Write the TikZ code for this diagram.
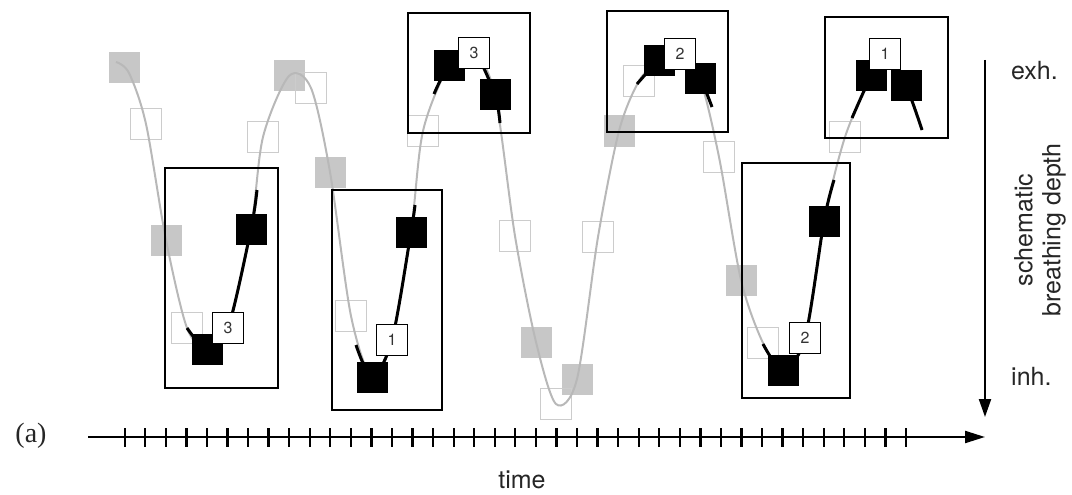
\documentclass[tikz,border=0pt]{standalone}
\usepackage{fontspec}
\setmainfont{TeX Gyre Heros}
\newfontfamily\serifa{Liberation Serif}
\usetikzlibrary{arrows.meta}
\begin{document}
\begin{tikzpicture}[x=1pt,y=-1pt,
  sq/.style={rectangle, minimum size=31pt, inner sep=0pt},
  graysq/.style={sq, fill=black!22},
  opensq/.style={sq, draw=black!20, line width=1.5pt},
  blacksq/.style={sq, fill=black},
  numsq/.style={sq, fill=white, draw=black, line width=1.6pt,
    font=\fontsize{16}{16}\selectfont, text=black!80},
  graycurve/.style={draw=black!28, line width=2pt},
  blackcurve/.style={draw=black, line width=3pt},
  framebox/.style={draw=black, line width=2.8pt},
  axisline/.style={draw=black, line width=2.2pt},
  tickmark/.style={draw=black, line width=2.3pt},
  lbl/.style={inner sep=0pt, text=black!85, font=\fontsize{25}{28}\selectfont}]
\useasboundingbox (0,0) rectangle (1072,495);

% sample positions along the breathing signal
\foreach \i/\x/\y in {1/124/68, 2/146/124, 3/166/240, 4/187/328, 5/207/349,
  6/228/328, 7/251/229, 8/263/137, 9/289/76, 10/311/88, 11/330/172,
  12/351/316, 13/372/377, 14/392/340, 15/411/232, 16/423/131, 17/449/66,
  18/474/53, 19/495/95, 20/515/236, 21/536/342, 22/556/404, 23/577/379,
  24/598/237, 25/619/131, 26/639/81, 27/659/61, 28/680/54, 29/700/79,
  30/719/157, 31/741/280, 32/763/343, 33/783/370, 34/805/338, 35/824/221,
  36/845/137, 37/871/76, 38/885/54, 39/906/86}
  \coordinate (p\i) at (\x,\y);

% extra points of the curve
\coordinate (c0) at (116,62);
\coordinate (c1) at (129,73);
\coordinate (c40) at (922,130);
\coordinate (e1) at (257,190);
\coordinate (a2) at (356,345);
\coordinate (e2) at (415,205);
\coordinate (a3) at (434,94);
\coordinate (e3) at (500,123);
\coordinate (a4) at (637,84);
\coordinate (e4) at (712,107);
\coordinate (a5) at (763,344);
\coordinate (e5) at (834,180);
\coordinate (a6) at (852,118);

% grey and open samples
\foreach \i in {1,3,9,11,21,23,25,31}
  \node[graysq] (s\i) at (p\i) {};
\foreach \i in {2,4,8,10,12,16,20,22,24,26,30,32,36}
  \node[opensq] (s\i) at (p\i) {};

% breathing signal
\draw[graycurve] plot[smooth] coordinates {(c0) (c1) (p2) (p3) (p4) (p5) (p6)
  (p7) (p8) (p9) (p10) (p11) (p12) (p13) (p14) (p15) (p16) (p17) (p18) (p19)
  (p20) (p21) (p22) (p23) (p24) (p25) (p26) (p27) (p28) (p29) (p30) (p31)
  (p32) (p33) (p34) (p35) (p36) (p37) (p38) (p39) (c40)};

% windows
\draw[framebox] (165,168) rectangle (278,388);
\draw[framebox] (332,190) rectangle (442,410);
\draw[framebox] (408,13) rectangle (530,133);
\draw[framebox] (607,11) rectangle (728,132);
\draw[framebox] (742,163) rectangle (850,398);
\draw[framebox] (825,17) rectangle (948,138);

% selected parts of the signal
\draw[blackcurve] plot[smooth] coordinates {(p4) (p5) (p6) (p7) (e1)};
\draw[blackcurve] plot[smooth] coordinates {(a2) (p13) (p14) (p15) (e2)};
\draw[blackcurve] plot[smooth] coordinates {(a3) (p17) (p18) (p19) (e3)};
\draw[blackcurve] plot[smooth] coordinates {(a4) (p27) (p28) (p29) (e4)};
\draw[blackcurve] plot[smooth] coordinates {(a5) (p33) (p34) (p35) (e5)};
\draw[blackcurve] plot[smooth] coordinates {(a6) (p37) (p38) (p39) (c40)};

% selected samples
\foreach \i in {5,7,13,15,17,19,27,29,33,35,37,39}
  \node[blacksq] (s\i) at (p\i) {};
\foreach \i/\n in {6/3,14/1,18/3,28/2,34/2,38/1}
  \node[numsq] (s\i) at (p\i) {\n};

% time axis
\coordinate (t0) at (88,437);
\coordinate (t1) at (985,437);
\draw[axisline, -{Triangle[length=20pt,width=12pt]}] (t0) -- (t1);
\foreach \k in {0,...,38}
  \draw[tickmark] ({124.7+20.56*\k},428) -- ({124.7+20.56*\k},447);

% depth axis
\coordinate (v0) at (985,60);
\coordinate (v1) at (985,417);
\draw[axisline, -{Triangle[length=18pt,width=12pt]}] (v0) -- (v1);

% labels
\node[lbl, anchor=west] (exh) at (1011,71) {exh.};
\node[lbl, anchor=west] (inh) at (1011,376) {inh.};
\node[lbl, rotate=90, align=center] (depth) at (1040,230) {schematic\\breathing depth};
\node[lbl] (time) at (522,480) {time};
\node[inner sep=0pt, text=black!85, font=\serifa\fontsize{28}{28}\selectfont] (lab) at (31,436) {(a)};
\end{tikzpicture}
\end{document}
